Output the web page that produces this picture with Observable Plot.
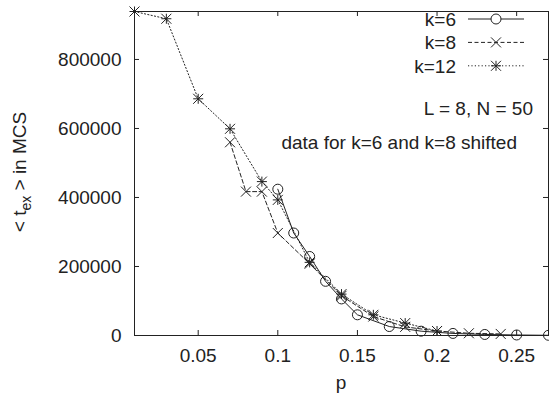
<!DOCTYPE html>
<html>
<head>
<meta charset="utf-8">
<script src="https://cdn.jsdelivr.net/npm/d3@7"></script>
<script src="https://cdn.jsdelivr.net/npm/@observablehq/plot@0.6"></script>
<style>
  html, body { margin: 0; padding: 0; background: #fff; }
  #chart { width: 549px; height: 399px; }
</style>
</head>
<body>
<div id="chart"></div>
<script>
// ---- data ----
const p6  = [0.10, 0.11, 0.12, 0.13, 0.14, 0.15, 0.17, 0.19, 0.21, 0.23, 0.25, 0.27];
const t6  = [424000, 297000, 229000, 157000, 106000, 60000, 26000, 12500, 6000, 3000, 1500, 600];
const p8  = [0.07, 0.08, 0.09, 0.10, 0.12, 0.14, 0.16, 0.18, 0.20, 0.22, 0.24];
const t8  = [560000, 417000, 417000, 297000, 208000, 115000, 55000, 25000, 13000, 6500, 4500];
const p12 = [0.01, 0.03, 0.05, 0.07, 0.09, 0.10, 0.12, 0.14, 0.16, 0.18, 0.20];
const t12 = [939000, 918000, 686000, 599000, 446000, 393000, 212000, 120000, 60000, 36000, 13000];
const seriesNames = ["k=6", "k=8", "k=12"];
const xTicks = [0.05, 0.1, 0.15, 0.2, 0.25];
const xTickLabels = ["0.05", "0.1", "0.15", "0.2", "0.25"];
const yTicks = [0, 200000, 400000, 600000, 800000];
const yTickLabels = ["0", "200000", "400000", "600000", "800000"];
const xLabel = "p";
const noteLines = ["L = 8, N = 50", "data for k=6 and k=8 shifted"];

const d6 = p6.map((p, i) => ({p, t: t6[i]}));
const d8 = p8.map((p, i) => ({p, t: t8[i]}));
const d12 = p12.map((p, i) => ({p, t: t12[i]}));

// ---- gnuplot-like symbols ----
const symCircle = {draw(ctx, size) { const r = Math.sqrt(size / Math.PI); ctx.moveTo(r, 0); ctx.arc(0, 0, r, 0, 2 * Math.PI); }};
const symX = {draw(ctx, size) { const r = Math.sqrt(size / Math.PI);
  ctx.moveTo(-r, -r); ctx.lineTo(r, r); ctx.moveTo(-r, r); ctx.lineTo(r, -r); }};
const symStar = {draw(ctx, size) { const r = Math.sqrt(size / Math.PI);
  ctx.moveTo(-r, -r); ctx.lineTo(r, r); ctx.moveTo(-r, r); ctx.lineTo(r, -r);
  ctx.moveTo(-r, 0); ctx.lineTo(r, 0); ctx.moveTo(0, -r); ctx.lineTo(0, r); }};

const W = 549, H = 399, mL = 134, mR = 1, mT = 11, mB = 64;
const ink = "#222";
const font = "'Liberation Sans', Arial, Helvetica, sans-serif";
const fs = 19;
const plotH = H - mT - mB, plotW = W - mL - mR;
const xFmt = d => xTickLabels[xTicks.indexOf(d)];
const yFmt = d => yTickLabels[yTicks.indexOf(d)];

const chart = Plot.plot({
  width: W, height: H,
  marginLeft: mL, marginRight: mR, marginTop: mT, marginBottom: mB,
  style: {fontFamily: font, fontSize: fs + "px", color: ink, background: "#fff", overflow: "visible"},
  x: {domain: [0.01, 0.27]},
  y: {domain: [0, 939000]},
  marks: [
    Plot.axisX(xTicks, {anchor: "bottom", tickSize: 0, tickPadding: 13, tickFormat: xFmt, label: null, fill: ink}),
    Plot.axisY(yTicks, {anchor: "left", tickSize: 0, tickPadding: 13, tickFormat: yFmt, label: null, fill: ink}),
    Plot.tickX(xTicks, {x: d => d, insetTop: plotH - 5, stroke: ink}),
    Plot.tickX(xTicks, {x: d => d, insetBottom: plotH - 5, stroke: ink}),
    Plot.tickY(yTicks, {y: d => d, insetRight: plotW - 5, stroke: ink}),
    Plot.tickY(yTicks, {y: d => d, insetLeft: plotW - 5, stroke: ink}),
    Plot.line(d12, {x: "p", y: "t", stroke: ink, strokeWidth: 1, strokeDasharray: "1.2,2.2"}),
    Plot.line(d8, {x: "p", y: "t", stroke: ink, strokeWidth: 1, strokeDasharray: "4,2.5"}),
    Plot.line(d6, {x: "p", y: "t", stroke: ink, strokeWidth: 1}),
    Plot.dot(d12, {x: "p", y: "t", symbol: symStar, r: 5, stroke: ink, strokeWidth: 1, fill: "none"}),
    Plot.dot(d8, {x: "p", y: "t", symbol: symX, r: 5, stroke: ink, strokeWidth: 1, fill: "none"}),
    Plot.dot(d6, {x: "p", y: "t", symbol: symCircle, r: 5, stroke: ink, strokeWidth: 1, fill: "none"}),
    Plot.frame({stroke: ink, strokeWidth: 1})
  ]
});
document.getElementById("chart").appendChild(chart);

// ---- annotations, legend, axis titles ----
const svg = d3.select(chart);
const g = svg.append("g").attr("font-family", font).attr("font-size", fs).attr("fill", ink);

// x label
g.append("text").attr("x", mL + plotW / 2).attr("y", 389).attr("text-anchor", "middle").text(xLabel);

// y label with subscript
const yl = g.append("text").attr("transform", "translate(26,172) rotate(-90)").attr("text-anchor", "middle");
yl.append("tspan").text("< t");
yl.append("tspan").attr("dy", 5).attr("font-size", 14).text("ex");
yl.append("tspan").attr("dy", -5).text(" > in MCS");

// notes
g.append("text").attr("x", 533).attr("y", 115).attr("text-anchor", "end").text(noteLines[0]);
g.append("text").attr("x", 517).attr("y", 148.5).attr("text-anchor", "end").text(noteLines[1]);

// legend
const legendSyms = [symCircle, symX, symStar];
const legendDash = [null, "4,2.5", "1.2,2.2"];
const rowY = [19, 42.4, 65.8];
seriesNames.forEach((name, i) => {
  const cy = rowY[i];
  g.append("text").attr("x", 456).attr("y", cy + 6.8).attr("text-anchor", "end").text(name);
  g.append("line").attr("x1", 468).attr("x2", 524).attr("y1", cy).attr("y2", cy)
    .attr("stroke", ink).attr("stroke-width", 1).attr("stroke-dasharray", legendDash[i]);
  g.append("path").attr("transform", `translate(496,${cy})`)
    .attr("d", d3.symbol(legendSyms[i], Math.PI * 25)())
    .attr("stroke", ink).attr("fill", i === 0 ? "#fff" : "none").attr("stroke-width", 1);
});
</script>
</body>
</html>
